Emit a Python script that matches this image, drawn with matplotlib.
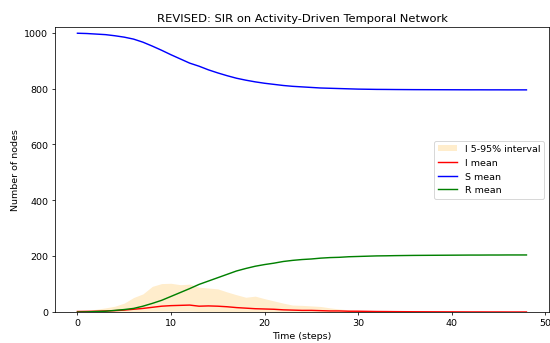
import numpy as np
import matplotlib
matplotlib.use('Agg')
import matplotlib.pyplot as plt

steps = np.arange(49)

s_mean = [998, 997, 995, 993, 989, 984, 977, 966, 952, 937,
          921, 906, 891, 880, 867, 856, 846, 837, 830, 824,
          819, 815, 811, 808, 806, 804, 802, 801, 800, 799,
          798, 797.5, 797, 796.8, 796.5, 796.3, 796.1, 796, 795.9, 795.8,
          795.7, 795.6, 795.5, 795.5, 795.4, 795.4, 795.3, 795.3, 795.3]

i_mean = [2, 2.5, 3, 4, 5, 7, 10, 13, 17, 21,
          23, 24, 25, 21, 22, 21, 19, 16, 14, 12,
          11, 10, 8, 7, 6, 6, 5, 4, 4, 3,
          3, 2.5, 2, 1.8, 1.5, 1.3, 1.1, 1, 0.9, 0.8,
          0.7, 0.6, 0.5, 0.5, 0.4, 0.4, 0.3, 0.3, 0.3]

i_low = [1, 1, 1, 1, 1, 1, 2, 2, 3, 3,
         3, 3, 3, 2, 2, 2, 1, 1, 1, 1,
         0, 0, 0, 0, 0, 0, 0, 0, 0, 0,
         0, 0, 0, 0, 0, 0, 0, 0, 0, 0,
         0, 0, 0, 0, 0, 0, 0, 0, 0]

i_high = [3, 6, 10, 15, 21, 32, 52, 65, 92, 102,
          103, 98, 100, 89, 86, 83, 72, 62, 53, 57,
          48, 40, 32, 25, 24, 22, 20, 15, 11, 8,
          6, 4, 3, 3, 2, 2, 2, 1, 1, 1,
          1, 1, 1, 1, 1, 1, 1, 1, 1]

r_mean = [1000 - s - i for s, i in zip(s_mean, i_mean)]

# drawn at 8x5 in and saved at a lower dpi -> 550x343 px
fig, ax = plt.subplots(figsize=(8, 5))
ax.fill_between(steps, i_low, i_high, color='orange', alpha=0.2, linewidth=0,
                label='I 5-95% interval')
ax.plot(steps, i_mean, color='red', label='I mean')
ax.plot(steps, s_mean, color='blue', label='S mean')
ax.plot(steps, r_mean, color='green', label='R mean')

ax.set_ylim(0, 1020)
ax.set_xlabel('Time (steps)')
ax.set_ylabel('Number of nodes')
ax.set_title('REVISED: SIR on Activity-Driven Temporal Network')
ax.legend(loc='center right')

plt.subplots_adjust(left=0.1, right=0.998, bottom=0.09, top=0.919)
plt.savefig('out.png', dpi=68.75)
